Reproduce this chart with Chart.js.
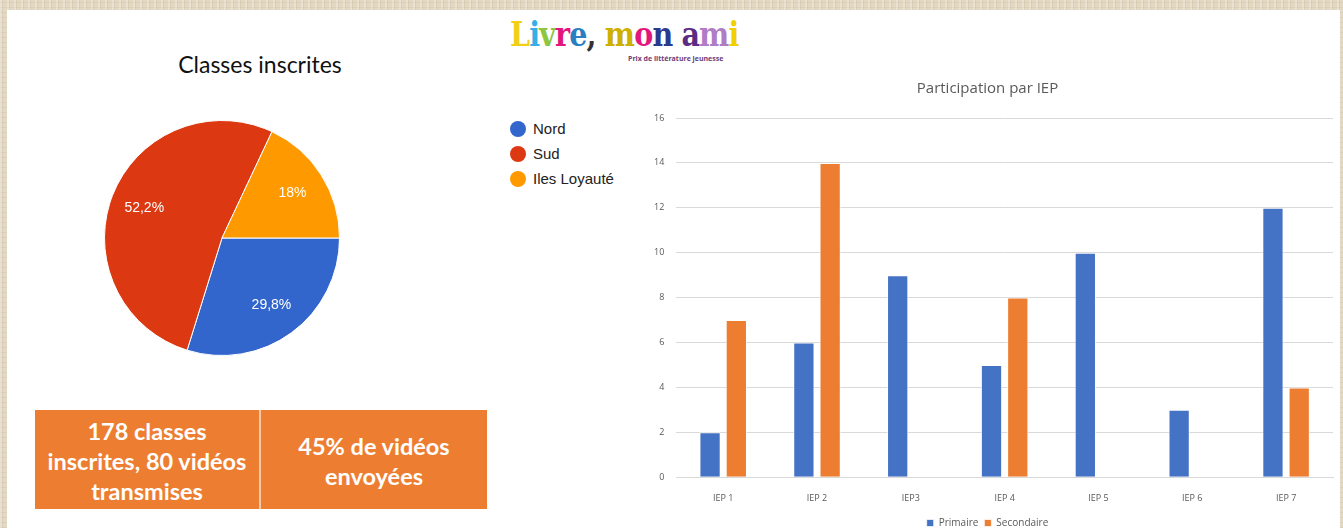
<!DOCTYPE html>
<html lang="fr">
<head>
<meta charset="utf-8">
<title>Livre, mon ami</title>
<script src="https://cdn.jsdelivr.net/npm/chart.js@4.4.1/dist/chart.umd.min.js"></script>
<style>
  html, body { margin: 0; padding: 0; width: 1343px; height: 528px; overflow: hidden; }
  body {
    position: relative;
    background-color: #e3d8c1;
    background-image:
      repeating-linear-gradient(90deg, rgba(255,255,255,0.25) 0 2px, rgba(0,0,0,0.04) 2px 3px, transparent 3px 7px),
      repeating-linear-gradient(0deg, rgba(120,100,70,0.08) 0 1px, transparent 1px 5px);
  }
  #panel { position: absolute; left: 7px; top: 10px; width: 1333px; height: 518px; background: #fff; }
  .abs { position: absolute; }
  #logo { left: 510px; top: 14px; width: 215px; font-family: "DejaVu Serif", serif; font-weight: bold; }
  #logo .word { font-size: 34px; letter-spacing: -1px; line-height: 40px; white-space: nowrap; transform: scaleX(0.84); transform-origin: left; display: block; }
  #logo .sub { position: absolute; left: 118px; top: 40px; font-family: "Open Sans", sans-serif; font-size: 7px; color: #6b3d7a; font-weight: bold; white-space: nowrap; }
  #pieTitle { left: 130px; top: 50px; width: 260px; text-align: center; font-family: Lato, sans-serif; font-size: 23px; color: #111; }
  #pieWrap { left: 104px; top: 120px; width: 236px; height: 236px; }
  #pieLegend { left: 510px; top: 116px; font-family: "Liberation Sans", Arial, sans-serif; font-size: 15px; color: #222; }
  #pieLegend div { height: 25px; line-height: 22px; display: flex; align-items: center; }
  #pieLegend span.dot { width: 16px; height: 16px; border-radius: 50%; display: inline-block; margin-right: 7px; }
  #barWrap { left: 640px; top: 72px; width: 700px; height: 466px; }
  #boxes { left: 35px; top: 410px; width: 452px; height: 99px; display: flex; }
  #boxes div { background: #ed7d31; color: #fff; font-family: Lato, sans-serif; font-weight: bold; font-size: 23.5px; line-height: 30px; display: flex; align-items: center; justify-content: center; text-align: center; }
  #boxes div.b1 { width: 224px; border-right: 2px solid #f7c9a6; padding-top: 2px; }
  #boxes div.b2 { width: 226px; padding-top: 2px; }
</style>
</head>
<body>
<div id="panel"></div>

<div id="logo" class="abs">
  <span class="word"><span style="color:#f2cf17">L</span><span style="color:#35b0e6">i</span><span style="color:#8dc63f">v</span><span style="color:#e3167c">r</span><span style="color:#2a7fc1">e</span><span style="color:#333">,</span> <span style="color:#cdb000">m</span><span style="color:#e3167c">o</span><span style="color:#2b3a8f">n</span> <span style="color:#5b2c83">a</span><span style="color:#b07cc6">m</span><span style="color:#f0d000">i</span></span>
  <span class="sub">Prix de littérature jeunesse</span>
</div>

<div id="pieTitle" class="abs">Classes inscrites</div>
<div id="pieWrap" class="abs"><canvas id="pieChart"></canvas></div>
<div id="pieLegend" class="abs"></div>

<div id="boxes" class="abs">
  <div class="b1">178 classes<br>inscrites, 80 vidéos<br>transmises</div>
  <div class="b2">45% de vidéos<br>envoyées</div>
</div>

<div id="barWrap" class="abs"><canvas id="barChart"></canvas></div>

<script>
// pie: classes inscrites by region
const regions = ['Nord', 'Sud', 'Iles Loyauté'];
const regionShare = [29.8, 52.2, 18];
const regionColors = ['#3366cc', '#dc3912', '#ff9900'];

// bars: participation by IEP
const iepLabels = ['IEP 1', 'IEP 2', 'IEP3', 'IEP 4', 'IEP 5', 'IEP 6', 'IEP 7'];
const primaire = [2, 6, 9, 5, 10, 3, 12];
const secondaire = [7, 14, null, 8, null, null, 4];
const yTicks = [0, 2, 4, 6, 8, 10, 12, 14, 16];

// labels inside pie slices, written like "29,8%"
const sliceLabels = {
  id: 'sliceLabels',
  afterDatasetsDraw(chart) {
    const ctx = chart.ctx;
    const meta = chart.getDatasetMeta(0);
    ctx.save();
    ctx.fillStyle = '#fff';
    ctx.font = '14px "Liberation Sans", Arial, sans-serif';
    ctx.textAlign = 'center';
    ctx.textBaseline = 'middle';
    meta.data.forEach((arc, i) => {
      const p = arc.getProps(['x', 'y', 'startAngle', 'endAngle', 'outerRadius'], true);
      const mid = (p.startAngle + p.endAngle) / 2;
      const r = p.outerRadius * 0.71;
      const txt = String(chart.data.datasets[0].data[i]).replace('.', ',') + '%';
      ctx.fillText(txt, p.x + Math.cos(mid) * r, p.y + Math.sin(mid) * r);
    });
    ctx.restore();
  }
};

const pieChart = new Chart(document.getElementById('pieChart'), {
  type: 'pie',
  data: {
    labels: regions,
    datasets: [{
      data: regionShare,
      backgroundColor: regionColors,
      borderColor: '#fff',
      borderWidth: 1
    }]
  },
  options: {
    responsive: true,
    maintainAspectRatio: false,
    animation: false,
    rotation: 90,
    plugins: { legend: { display: false }, tooltip: { enabled: false } }
  },
  plugins: [sliceLabels]
});

// html legend for the pie
const legendEl = document.getElementById('pieLegend');
regions.forEach((name, i) => {
  const row = document.createElement('div');
  row.innerHTML = '<span class="dot" style="background:' + regionColors[i] + '"></span>' + name;
  legendEl.appendChild(row);
});

const barChart = new Chart(document.getElementById('barChart'), {
  type: 'bar',
  data: {
    labels: iepLabels,
    datasets: [
      { label: 'Primaire', data: primaire, backgroundColor: '#4472c4', borderColor: 'rgba(255,255,255,0.7)', borderWidth: 1 },
      { label: 'Secondaire', data: secondaire, backgroundColor: '#ed7d31', borderColor: 'rgba(255,255,255,0.7)', borderWidth: 1 }
    ]
  },
  options: {
    responsive: true,
    maintainAspectRatio: false,
    animation: false,
    categoryPercentage: 0.56,
    barPercentage: 0.81,
    layout: { padding: { left: 2, right: 7, top: 0, bottom: 0 } },
    plugins: {
      title: {
        display: true,
        text: 'Participation par IEP',
        color: '#595959',
        font: { family: '"Open Sans", sans-serif', size: 15, weight: 'normal' },
        padding: { top: 8, bottom: 20 }
      },
      legend: {
        position: 'bottom',
        labels: {
          usePointStyle: true,
          pointStyle: 'rect',
          boxWidth: 7,
          boxHeight: 7,
          padding: 6,
          color: '#595959',
          font: { family: '"Open Sans", sans-serif', size: 10 }
        }
      },
      tooltip: { enabled: false }
    },
    scales: {
      x: {
        grid: { display: false },
        border: { color: '#d9d9d9' },
        ticks: { color: '#595959', font: { family: '"Open Sans", sans-serif', size: 9 }, padding: 8 }
      },
      y: {
        min: yTicks[0],
        max: yTicks[yTicks.length - 1],
        afterBuildTicks(axis) { axis.ticks = yTicks.map(v => ({ value: v })); },
        grid: { color: '#d9d9d9', drawTicks: false },
        border: { display: false },
        ticks: { color: '#595959', font: { family: '"Open Sans", sans-serif', size: 9 }, padding: 12 }
      }
    }
  }
});
</script>
</body>
</html>
